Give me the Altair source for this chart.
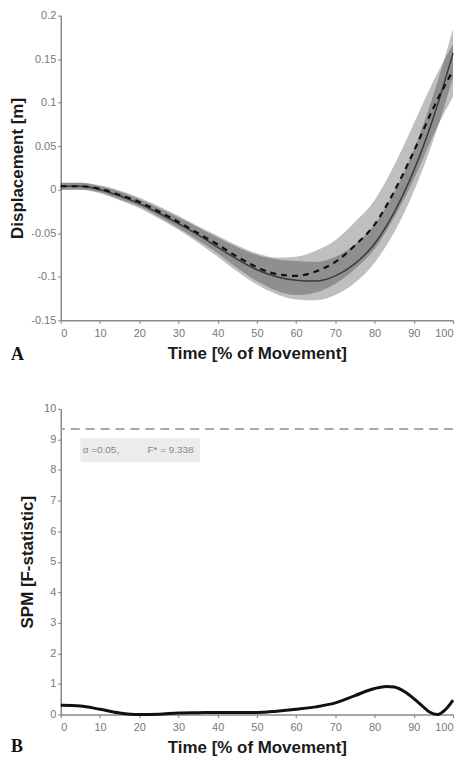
import altair as alt
import pandas as pd

# ---- Panel A: displacement (two group means with SD bands) ----
time_a = [0, 5, 10, 15, 20, 25, 30, 35, 40, 45, 50, 55, 60, 65, 70, 75, 80, 85, 90, 95, 100]
solid_mean = [0.004, 0.004, 0.000, -0.007, -0.016, -0.027, -0.039, -0.052, -0.066, -0.080, -0.092,
              -0.100, -0.104, -0.105, -0.099, -0.085, -0.062, -0.026, 0.022, 0.083, 0.157]
dashed_mean = [0.004, 0.004, 0.001, -0.006, -0.014, -0.025, -0.037, -0.050, -0.063, -0.077, -0.089,
               -0.097, -0.099, -0.094, -0.083, -0.064, -0.040, -0.002, 0.044, 0.094, 0.137]
solid_sd = [0.004, 0.004, 0.004, 0.005, 0.005, 0.006, 0.007, 0.009, 0.011, 0.014, 0.017,
            0.020, 0.022, 0.022, 0.022, 0.022, 0.022, 0.023, 0.024, 0.026, 0.028]
dashed_sd = [0.004, 0.004, 0.004, 0.005, 0.005, 0.006, 0.007, 0.008, 0.010, 0.013, 0.016,
             0.019, 0.022, 0.024, 0.025, 0.027, 0.028, 0.030, 0.032, 0.031, 0.030]
y_ticks_a = [-0.15, -0.1, -0.05, 0, 0.05, 0.1, 0.15, 0.2]

# ---- Panel B: SPM F-statistic ----
time_b = [0, 5, 10, 15, 20, 25, 30, 35, 40, 45, 50, 55, 60, 65, 70, 75, 80, 83, 85, 88, 90, 92, 94, 96, 98, 100]
spm_f = [0.30, 0.28, 0.17, 0.05, 0.0, 0.01, 0.05, 0.06, 0.07, 0.07, 0.07, 0.11, 0.17, 0.25, 0.38,
         0.62, 0.85, 0.92, 0.90, 0.72, 0.52, 0.30, 0.08, 0.0, 0.15, 0.47]
f_crit = 9.338
x_ticks = list(range(0, 101, 10))
y_ticks_b = list(range(0, 11))

W, H1, H2 = 394, 306, 307

df_a = pd.DataFrame({
    "t": time_a,
    "solid": solid_mean,
    "dashed": dashed_mean,
    "s_lo": [m - s for m, s in zip(solid_mean, solid_sd)],
    "s_hi": [m + s for m, s in zip(solid_mean, solid_sd)],
    "d_lo": [m - s for m, s in zip(dashed_mean, dashed_sd)],
    "d_hi": [m + s for m, s in zip(dashed_mean, dashed_sd)],
})
df_b = pd.DataFrame({"t": time_b, "f": spm_f})

xscale = alt.Scale(domain=[0, 100], nice=False)
xaxis = alt.Axis(values=x_ticks, title="Time [% of Movement]", labelPadding=4, titlePadding=7,
                 grid=False, labelOverlap=False)
yscale_a = alt.Scale(domain=[-0.15, 0.2], nice=False)
yaxis_a = alt.Axis(values=y_ticks_a, title="Displacement [m]", format="~g",
                   labelExpr="replace(datum.label, '\u2212', '-')", titlePadding=4,
                   grid=False, labelOverlap=False)

X_A = alt.X("t:Q", scale=xscale, axis=xaxis)

base_a = alt.Chart(df_a)
band_s = base_a.mark_area(color="#000000", opacity=0.25, interpolate="monotone").encode(
    x=X_A, y=alt.Y("s_lo:Q", scale=yscale_a, axis=yaxis_a), y2="s_hi:Q",
)
band_d = base_a.mark_area(color="#000000", opacity=0.25, interpolate="monotone").encode(
    x=X_A, y=alt.Y("d_lo:Q", scale=yscale_a, axis=yaxis_a), y2="d_hi:Q"
)
line_s = base_a.mark_line(color="#3a3a3a", strokeWidth=1.5, interpolate="monotone").encode(
    x=X_A, y=alt.Y("solid:Q", scale=yscale_a, axis=yaxis_a)
)
line_d = base_a.mark_line(color="#111111", strokeWidth=2.2, strokeDash=[6, 5], interpolate="monotone").encode(
    x=X_A, y=alt.Y("dashed:Q", scale=yscale_a, axis=yaxis_a)
)
lab_a = alt.Chart(pd.DataFrame({"lab": ["A"]})).mark_text(
    font="Liberation Serif", fontSize=18, fontWeight="bold", align="left", baseline="middle", color="#111"
).encode(text="lab:N", x=alt.value(-50), y=alt.value(H1 + 35))

panel_a = alt.layer(band_s, band_d, line_s, line_d, lab_a).properties(width=W, height=H1)

# Panel B
yscale_b = alt.Scale(domain=[0, 10], nice=False)
yaxis_b = alt.Axis(values=y_ticks_b, title="SPM [F-statistic]", titlePadding=7, grid=False, labelOverlap=False)
Y_B = lambda f: alt.Y(f, scale=yscale_b, axis=yaxis_b)

spm_line = alt.Chart(df_b).mark_line(color="#111111", strokeWidth=3, interpolate="monotone").encode(
    x=X_A, y=Y_B("f:Q"),
)
crit = alt.Chart(pd.DataFrame({"fc": [f_crit]})).mark_rule(
    color="#a8a8a8", strokeWidth=2, strokeDash=[9, 6]
).encode(y=Y_B("fc:Q"))

box = alt.Chart(pd.DataFrame({"x0": [5.0], "x1": [35.5], "y0": [8.25], "y1": [9.05]})).mark_rect(
    color="#ececec"
).encode(x=alt.X("x0:Q", scale=xscale, axis=xaxis), x2="x1:Q", y=Y_B("y0:Q"), y2="y1:Q")

ann = alt.Chart(pd.DataFrame({
    "x": [5.6, 22.1], "y": [8.65, 8.65], "txt": ["\u03b1  =0.05,", "F* = 9.338"]
})).mark_text(font="Liberation Sans", fontSize=10, color="#888888", align="left", baseline="middle").encode(
    x=alt.X("x:Q", scale=xscale, axis=xaxis), y=Y_B("y:Q"), text="txt:N"
)
lab_b = alt.Chart(pd.DataFrame({"lab": ["B"]})).mark_text(
    font="Liberation Serif", fontSize=18, fontWeight="bold", align="left", baseline="middle", color="#111"
).encode(text="lab:N", x=alt.value(-50), y=alt.value(H2 + 33))

panel_b = alt.layer(box, ann, crit, spm_line, lab_b).properties(width=W, height=H2)

chart = alt.vconcat(panel_a, panel_b, spacing=39).properties(
    padding={"left": 0, "top": 0, "right": 0, "bottom": 0},
    background="white",
).configure_axis(
    grid=False,
    domainColor="#8a8a8a", domainWidth=1.5,
    tickColor="#8a8a8a", tickSize=3, tickWidth=1.2,
    labelColor="#777777", labelFont="Liberation Sans", labelFontSize=11,
    titleFont="Liberation Sans", titleFontSize=17, titleFontWeight="bold", titleColor="#1a1a1a",
).configure_view(stroke=None)

chart.save("out.html", embed_options={"renderer": "svg", "actions": False})
